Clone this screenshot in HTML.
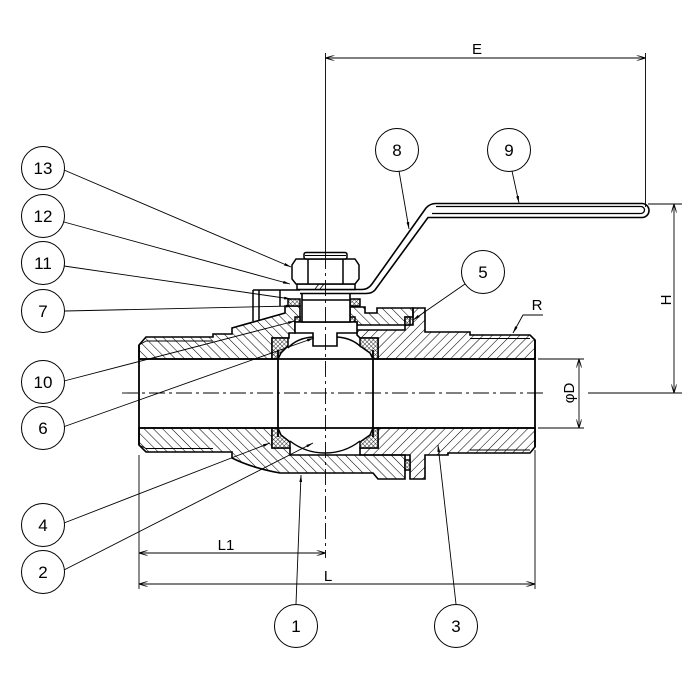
<!DOCTYPE html>
<html><head><meta charset="utf-8"><style>
html,body{margin:0;padding:0;background:#fff;}
svg{display:block;}
text{font-family:"Liberation Sans","Noto Sans CJK JP",sans-serif;fill:#000;}
</style></head><body>
<svg width="696" height="696" viewBox="0 0 696 696" xmlns="http://www.w3.org/2000/svg">
<defs>
<pattern id="hA" width="6.5" height="6.5" patternUnits="userSpaceOnUse" patternTransform="rotate(-45)"><line x1="0" y1="0" x2="0" y2="6.5" stroke="#000" stroke-width="1.05"/></pattern>
<pattern id="hB" width="6.5" height="6.5" patternUnits="userSpaceOnUse" patternTransform="rotate(45)"><line x1="0" y1="0" x2="0" y2="6.5" stroke="#000" stroke-width="1.05"/></pattern>
<pattern id="hX" width="3" height="3" patternUnits="userSpaceOnUse" patternTransform="rotate(45)"><rect width="3" height="3" fill="#fff"/><line x1="0" y1="0" x2="0" y2="3" stroke="#000" stroke-width="0.8"/><line x1="0" y1="0" x2="3" y2="0" stroke="#000" stroke-width="0.8"/></pattern>
<marker id="ar" viewBox="0 0 10 4" refX="10" refY="2" markerWidth="7" markerHeight="2.8" markerUnits="userSpaceOnUse" orient="auto"><path d="M0,0 L10,2 L0,4 z" fill="#000"/></marker>
<marker id="da" viewBox="0 0 10 6" refX="10" refY="3" markerWidth="9" markerHeight="5.4" markerUnits="userSpaceOnUse" orient="auto-start-reverse"><path d="M0,0 L10,3 L0,6" fill="none" stroke="#000" stroke-width="1"/></marker>
</defs>

<!-- hatched regions -->
<g stroke="#000" stroke-width="1.6" stroke-linejoin="miter">
<path fill="url(#hA)" d="M139,345 L146,337 L213,337 L213,334 L232,334 L232,328 L285,313 L285,306 L300,306 L300,322 L295,322 L295,333 L289,333 L289,338 L272,338 L272,359 L139,359 Z"/>
<path fill="url(#hA)" d="M350,307 L365,307 L365,313 L377,313 L377,308 L413,308 L413,325 L357,325 L357,322 L350,322 Z"/>
<path fill="url(#hB)" d="M357,330 L405,330 L405,317 L413,317 L413,308 L425,308 L425,332 L470,332 L470,335 L530,335 L535,340 L535,359 L378,359 L378,338 L360,338 L357,335 Z"/>
<path fill="url(#hA)" d="M139,428 L272,428 L272,448 L290,448 L290,455 L405,455 L405,479 L378,479 L373,473 L280,473 Q252,468 232,458 L232,452 L146,452 L139,445 Z"/>
<path fill="url(#hB)" d="M378,428 L535,428 L535,447 L530,453 L448,453 L448,455 L425,455 L425,479 L410,479 L410,455 L360,455 L360,448 L378,448 Z"/>
</g>

<!-- seats -->
<g stroke="#000" stroke-width="1.5" fill="url(#hX)">
<path d="M272,338 L288,338 L288,346 L281,353 L278,359 L272,359 Z"/>
<path d="M360,338 L378,338 L378,359 L373,359 L370,353 L360,346 Z"/>
<path d="M272,428 L278,428 L281,435 L290,442 L290,448 L272,448 Z"/>
<path d="M373,428 L378,428 L378,448 L360,448 L360,442 L370,435 Z"/>
<rect x="405" y="317" width="5" height="8"/>
<rect x="405" y="460" width="5" height="10"/>
<rect x="288" y="299" width="12" height="7"/>
<rect x="350" y="299" width="10" height="7"/>
<rect x="295" y="317" width="5" height="5"/>
<rect x="350" y="317" width="5" height="5"/>
</g>

<!-- threads -->
<g stroke="#000" stroke-width="0.9" fill="none">
<line x1="146" y1="341" x2="213" y2="341"/>
<line x1="146" y1="448.5" x2="213" y2="448.5"/>
<line x1="470" y1="338.5" x2="530" y2="338.5"/>
<line x1="470" y1="450" x2="530" y2="450"/>
<line x1="139" y1="345" x2="146" y2="341"/>
<line x1="139" y1="445" x2="146" y2="448.5"/>
</g>

<!-- bore lines & ball -->
<g stroke="#000" stroke-width="1.8" fill="none">
<line x1="139" y1="359" x2="535" y2="359"/>
<line x1="139" y1="428" x2="535" y2="428"/>
<line x1="139" y1="345" x2="139" y2="445"/>
<line x1="535" y1="340" x2="535" y2="447"/>
<line x1="278" y1="350" x2="278" y2="437"/>
<line x1="373" y1="350" x2="373" y2="437"/>
<path d="M288,348 Q297,338 313,337" stroke-width="1.4"/>
<path d="M337,337 Q352,338 361,347" stroke-width="1.4"/>
<path d="M290,441 A57 57 0 0 0 360,441" stroke-width="1.4"/>
</g>

<!-- stop plate lines -->
<g stroke="#000" stroke-width="1.5" fill="none">
<line x1="253" y1="290" x2="253" y2="321"/>
<line x1="259" y1="290" x2="259" y2="320"/>
<line x1="280" y1="290" x2="280" y2="306"/>
<line x1="253" y1="290" x2="300" y2="290"/>
</g>

<!-- stem, collar -->
<g stroke="#000" stroke-width="1.6" fill="#fff">
<path d="M295,322 L357,322 L357,333 L337,333 L337,346 L313,346 L313,333 L295,333 Z"/>
<rect x="302" y="289" width="48" height="33"/>
<line x1="302" y1="300" x2="350" y2="300"/>
</g>

<!-- lever -->
<path d="M300,289.5 L362,289.5 Q368,289.5 372,284 L426,208 Q430,203.5 436,203.5 L642,203.5 A7 7 0 0 1 642,217.5 L428,217.5 L375,290 Q372,293.5 366,293.5 L300,293.5" fill="#fff" stroke="#000" stroke-width="1.6"/>
<path d="M436,206.5 L641,206.5 A3.4 3.4 0 0 1 641,213.5 L432,213.5" fill="none" stroke="#000" stroke-width="1.3"/>

<!-- washer, nut -->
<g stroke="#000" stroke-width="1.5" fill="#fff">
<rect x="297" y="284" width="58" height="5.5"/>
<polygon points="296,259 355,259 359,265 359,279 355,284 296,284 292,279 292,265"/>
<line x1="308" y1="259" x2="308" y2="284"/>
<line x1="343" y1="259" x2="343" y2="284"/>
<rect x="304" y="252.5" width="43" height="6.5" rx="2"/>
<line x1="305" y1="255.5" x2="346" y2="255.5" stroke-width="1"/>
</g>
<g stroke="#000" stroke-width="0.8"><line x1="315" y1="289" x2="319" y2="284"/><line x1="320" y1="289" x2="324" y2="284"/></g>

<!-- center lines -->
<g stroke="#000" stroke-width="0.9" fill="none">
<line x1="122" y1="393" x2="545" y2="393" stroke-dasharray="16 4 3 4"/>
<line x1="588" y1="393" x2="682" y2="393"/>
<line x1="325.5" y1="53" x2="325.5" y2="253"/>
<line x1="325.5" y1="253" x2="325.5" y2="558" stroke-dasharray="16 4 3 4"/>
</g>

<!-- dimensions -->
<g stroke="#000" stroke-width="0.9" fill="none">
<line x1="325.5" y1="58" x2="645.5" y2="58" marker-start="url(#da)" marker-end="url(#da)"/>
<line x1="645.5" y1="53" x2="645.5" y2="207"/>
<line x1="648" y1="204" x2="682" y2="204"/>
<line x1="674" y1="204" x2="674" y2="393" marker-start="url(#da)" marker-end="url(#da)"/>
<line x1="538" y1="359" x2="584" y2="359"/>
<line x1="538" y1="428" x2="584" y2="428"/>
<line x1="579" y1="359" x2="579" y2="428" marker-start="url(#da)" marker-end="url(#da)"/>
<line x1="139" y1="455" x2="139" y2="589"/>
<line x1="535" y1="450" x2="535" y2="589"/>
<line x1="139" y1="553" x2="325.5" y2="553" marker-start="url(#da)" marker-end="url(#da)"/>
<line x1="139" y1="584" x2="535" y2="584" marker-start="url(#da)" marker-end="url(#da)"/>
<polyline points="543,315 523,315 513,333" marker-end="url(#ar)"/>
</g>
<g font-size="15">
<text x="477" y="54" text-anchor="middle">E</text>
<text x="226" y="550" text-anchor="middle">L1</text>
<text x="328" y="581" text-anchor="middle">L</text>
<text x="537" y="310" text-anchor="middle">R</text>
<text transform="translate(671,300) rotate(-90)" text-anchor="middle">H</text>
<text transform="translate(574,393) rotate(-90)" text-anchor="middle">φD</text>
</g>

<!-- leaders -->
<g stroke="#000" stroke-width="0.9" fill="none" marker-end="url(#ar)">
<line x1="64" y1="170" x2="291" y2="267"/>
<line x1="64" y1="222" x2="290" y2="284"/>
<line x1="64" y1="266" x2="291" y2="299"/>
<line x1="65" y1="311" x2="293" y2="306"/>
<line x1="64" y1="381" x2="295" y2="321"/>
<line x1="63" y1="427" x2="314" y2="338"/>
<line x1="64" y1="523" x2="270" y2="443"/>
<line x1="62" y1="571" x2="313" y2="443"/>
<line x1="296" y1="604" x2="301" y2="475"/>
<line x1="456" y1="604" x2="438" y2="445"/>
<line x1="399" y1="171" x2="409" y2="229"/>
<line x1="512" y1="171" x2="519" y2="203"/>
<line x1="465" y1="284" x2="413" y2="320"/>
</g>

<!-- balloons -->
<g stroke="#000" stroke-width="1" fill="#fff">
<circle cx="43" cy="168" r="21.5"/>
<circle cx="43" cy="216" r="21.5"/>
<circle cx="43" cy="263" r="21.5"/>
<circle cx="43" cy="311" r="21.5"/>
<circle cx="43" cy="382" r="21.5"/>
<circle cx="43" cy="428" r="21.5"/>
<circle cx="43" cy="525" r="21.5"/>
<circle cx="43" cy="572" r="21.5"/>
<circle cx="296" cy="626" r="21.5"/>
<circle cx="456" cy="626" r="21.5"/>
<circle cx="397" cy="150" r="21.5"/>
<circle cx="509" cy="150" r="21.5"/>
<circle cx="483" cy="272" r="21.5"/>
</g>
<g font-size="17" text-anchor="middle">
<text x="43" y="174">13</text>
<text x="43" y="222">12</text>
<text x="43" y="269">11</text>
<text x="43" y="317">7</text>
<text x="43" y="388">10</text>
<text x="43" y="434">6</text>
<text x="43" y="531">4</text>
<text x="43" y="578">2</text>
<text x="296" y="632">1</text>
<text x="456" y="632">3</text>
<text x="397" y="156">8</text>
<text x="509" y="156">9</text>
<text x="483" y="278">5</text>
</g>
</svg>
</body></html>
